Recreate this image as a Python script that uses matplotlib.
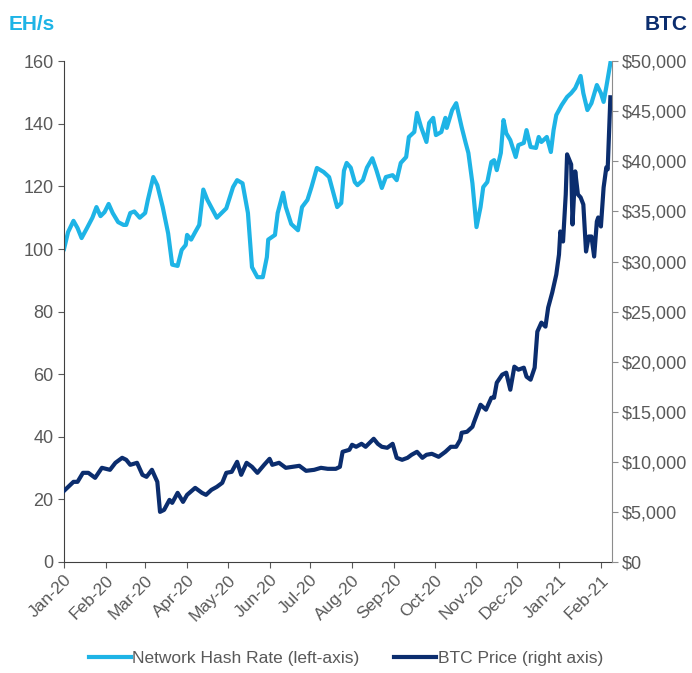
import numpy as np
import pandas as pd
import matplotlib
matplotlib.use("Agg")
import matplotlib.pyplot as plt
import matplotlib.dates as mdates
from matplotlib.ticker import FuncFormatter

plt.rcParams['font.family'] = ['Liberation Sans', 'DejaVu Sans']

# Network hash rate (EH/s), days since 2020-01-01
hash_days = [0, 3, 7, 10, 13, 17, 21, 24, 27, 30, 33, 36, 40, 44, 46, 49, 52, 56, 60, 62,
             66, 69, 73, 77, 80, 84, 87, 90, 91, 94, 97, 100, 103, 106, 113, 120, 125, 128,
             132, 136, 139, 143, 147, 150, 151, 156, 158, 162, 164, 168, 173, 176, 180, 183,
             187, 192, 196, 200, 202, 205, 207, 209, 212, 215, 217, 221, 224, 228, 231, 235,
             238, 243, 246, 249, 253, 255, 259, 261, 264, 268, 270, 273, 275, 279, 282, 283,
             287, 290, 294, 297, 299, 302, 304, 305, 308, 310, 313, 316, 318, 320, 323, 325,
             327, 330, 334, 336, 340, 342, 345, 349, 351, 353, 357, 360, 362, 364, 368, 372,
             375, 378, 382, 384, 387, 390, 394, 397, 399, 401, 404]
hash_rate = [100.0, 105.4, 109, 106.7, 103.5, 106.7, 110, 113.4, 110.5, 111.8, 114.4, 111.5,
             108.6, 107.7, 107.7, 111.5, 112, 110, 111.5, 115.7, 123, 120.4, 113.4, 105, 95,
             94.6, 99.7, 101.3, 104.5, 103, 105.4, 107.7, 119, 115.7, 110, 113, 119.8, 122,
             121, 111.5, 94.2, 91, 91, 97.4, 103, 104.5, 111.5, 118, 113.4, 108, 106, 113.4,
             115.7, 119.8, 125.9, 124.6, 123, 116.6, 113.4, 114.7, 125, 127.5, 126, 121.4,
             120.4, 122, 126, 129, 125.2, 119.5, 123, 123.6, 122, 127.5, 129.4, 135.8, 137.4,
             143.5, 139, 134.2, 140.3, 141.9, 136.4, 137.4, 141.9, 138.7, 144.4, 146.6, 139,
             133.9, 130.7, 121, 111.5, 107, 113.4, 119.8, 121.4, 127.8, 128.4, 125.2, 130.7,
             141.2, 137, 134.8, 129.4, 133.2, 133.9, 138, 132.6, 132.3, 135.8, 134.2, 135.8,
             131, 138, 142.8, 146, 148.6, 149.8, 151.4, 155.3, 149.8, 144.4, 146.6, 152.4,
             149.8, 147, 151.8, 159.4]

# BTC price (USD), days since 2020-01-01
btc_days = [0, 7, 10, 14, 18, 23, 28, 34, 38, 43, 46, 49, 54, 58, 61, 65, 69, 71, 74, 78, 80,
            84, 88, 91, 97, 102, 105, 109, 113, 117, 120, 124, 128, 131, 135, 139, 143, 148,
            152, 154, 159, 164, 169, 174, 179, 185, 190, 195, 201, 204, 206, 211, 213, 216,
            220, 223, 226, 229, 232, 235, 239, 243, 246, 250, 254, 257, 261, 265, 268, 272,
            277, 282, 286, 290, 293, 294, 298, 302, 303, 308, 312, 316, 318, 320, 324, 327,
            330, 333, 336, 340, 342, 345, 348, 350, 353, 356, 358, 361, 364, 366, 367, 369,
            371, 372, 375, 376, 378, 380, 382, 384, 386, 388, 390, 392, 394, 395, 397, 399,
            401, 402, 404]
btc_price = [7100, 8000, 8000, 8900, 8900, 8400, 9400, 9200, 9900, 10400, 10200, 9700, 9900,
             8700, 8500, 9200, 8000, 5000, 5200, 6200, 5900, 6900, 6000, 6700, 7400, 6900,
             6700, 7200, 7500, 7900, 8900, 9000, 10000, 8700, 9900, 9500, 8900, 9700, 10300,
             9700, 9900, 9400, 9500, 9600, 9100, 9200, 9400, 9300, 9300, 9500, 11000, 11200,
             11700, 11500, 11800, 11500, 11900, 12300, 11800, 11500, 11400, 11800, 10400,
             10200, 10400, 10700, 11000, 10400, 10700, 10800, 10500, 11000, 11500, 11500,
             12200, 12900, 13000, 13500, 13900, 15700, 15200, 16400, 16400, 17900, 18700,
             18900, 17200, 19500, 19200, 19400, 18500, 18200, 19400, 23000, 23900, 23500,
             25400, 26900, 28700, 30700, 33000, 32000, 36700, 40700, 39700, 33700, 39000,
             36700, 36400, 35700, 31000, 32500, 32500, 30500, 34000, 34400, 33500, 37400,
             39400, 39200, 46400]

start = pd.Timestamp("2020-01-01")
hash_dates = start + pd.to_timedelta(hash_days, unit="D")
btc_dates = start + pd.to_timedelta(btc_days, unit="D")

light_blue = "#1eb4e6"
navy = "#0b2d6e"
gray = "#595959"

fig = plt.figure(figsize=(6.92, 6.73), dpi=100)
ax = fig.add_axes([0.0925, 0.165, 0.7915, 0.744])
ax2 = ax.twinx()

ax.plot(hash_dates, hash_rate, color=light_blue, lw=3, label="Network Hash Rate (left-axis)",
        solid_joinstyle="round")
ax2.plot(btc_dates, btc_price, color=navy, lw=3, label="BTC Price (right axis)",
         solid_joinstyle="round")

ax.set_ylim(0, 160)
ax.set_yticks(range(0, 161, 20))
ax2.set_ylim(0, 50000)
ax2.set_yticks(range(0, 50001, 5000))
ax2.yaxis.set_major_formatter(FuncFormatter(lambda v, p: "${:,.0f}".format(v)))

ax.set_xlim(start, start + pd.Timedelta(days=405))
month_ticks = pd.date_range("2020-01-01", "2021-02-01", freq="MS")
ax.set_xticks(month_ticks)
ax.xaxis.set_major_formatter(mdates.DateFormatter("%b-%y"))

for a in (ax, ax2):
    a.spines["top"].set_visible(False)
    a.tick_params(colors=gray, labelsize=13, length=4, direction="out")
ax.tick_params(axis="x", labelsize=12.5)
plt.setp(ax.get_xticklabels(), rotation=45, ha="right", rotation_mode="anchor")
ax.spines["left"].set_color("#404040")
ax.spines["bottom"].set_color("#404040")
ax.spines["right"].set_visible(False)
ax2.spines["left"].set_visible(False)
ax2.spines["bottom"].set_visible(False)
ax2.spines["right"].set_color("#8c8c8c")
ax2.tick_params(axis="y", colors="#8c8c8c", labelcolor=gray)

fig.text(0.013, 0.978, "EH/s", color=light_blue, fontsize=15, fontweight="bold",
         ha="left", va="top")
fig.text(0.994, 0.978, "BTC", color=navy, fontsize=15, fontweight="bold",
         ha="right", va="top")

h1, l1 = ax.get_legend_handles_labels()
h2, l2 = ax2.get_legend_handles_labels()
fig.legend(h1 + h2, l1 + l2, loc="center", bbox_to_anchor=(0.5, 0.022), ncol=2,
           frameon=False, fontsize=12.5, handlelength=2.4, handletextpad=0.1,
           columnspacing=2.0, labelcolor=gray)

fig.savefig("out.png", dpi=100)
